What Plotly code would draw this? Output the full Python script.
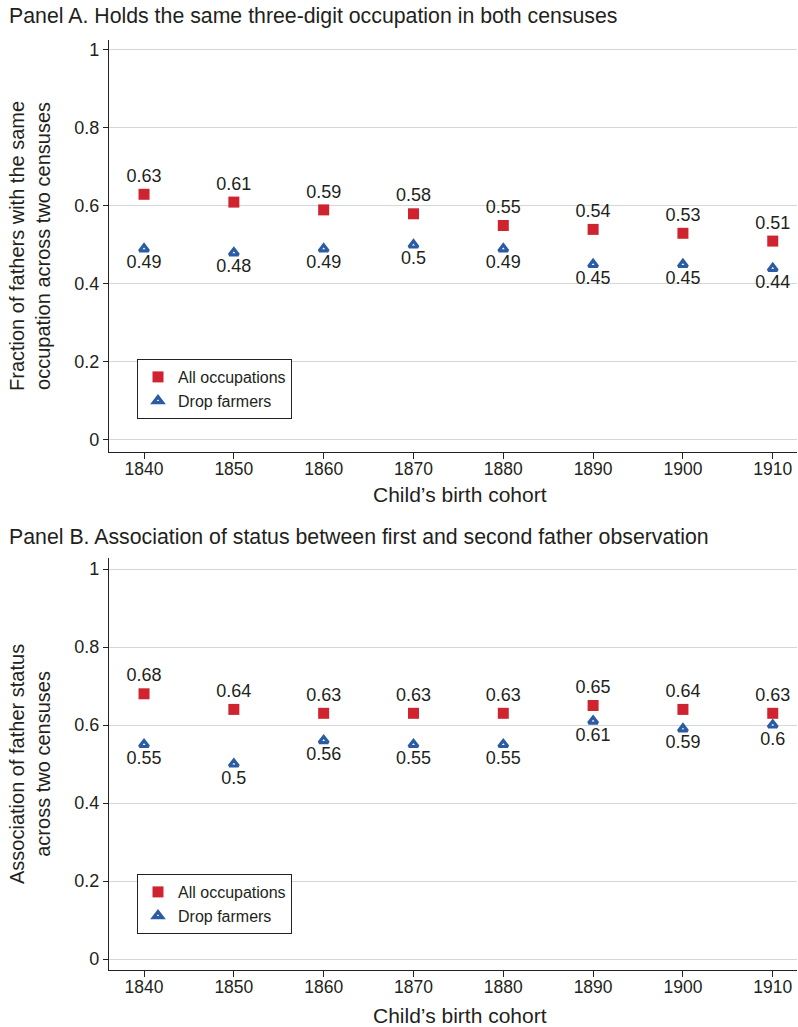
import plotly.graph_objects as go

cohorts = [1840, 1850, 1860, 1870, 1880, 1890, 1900, 1910]

# Panel A: share of fathers holding the same three-digit occupation
a_all = [0.63, 0.61, 0.59, 0.58, 0.55, 0.54, 0.53, 0.51]
a_drop = [0.49, 0.48, 0.49, 0.50, 0.49, 0.45, 0.45, 0.44]

# Panel B: association of father status across observations
b_all = [0.68, 0.64, 0.63, 0.63, 0.63, 0.65, 0.64, 0.63]
b_drop = [0.55, 0.50, 0.56, 0.55, 0.55, 0.61, 0.59, 0.60]

y_ticks = [0, 0.2, 0.4, 0.6, 0.8, 1]
y_tick_text = ["0", "0.2", "0.4", "0.6", "0.8", "1"]

RED = "#cf2330"
BLUE = "#2b5ca3"
TXT = "#231f20"
FONT = "Liberation Sans, Arial, Helvetica, sans-serif"

W, H = 798, 1027


def fmt(v):
    return f"{v:g}"


def px_x(x):
    return x / W


def px_y(y):
    return 1 - y / H


fig = go.Figure()

panels = [
    ("x", "y", a_all, a_drop, "legend"),
    ("x2", "y2", b_all, b_drop, "legend2"),
]
for xa, ya, s_all, s_drop, leg in panels:
    fig.add_trace(go.Scatter(
        x=cohorts, y=s_all, xaxis=xa, yaxis=ya, mode="markers+text",
        name="All occupations", legend=leg,
        marker=dict(symbol="square", size=11, color=RED),
        text=[fmt(v) for v in s_all], textposition="top center",
        textfont=dict(size=18, color=TXT, family=FONT),
    ))
    fig.add_trace(go.Scatter(
        x=cohorts, y=s_drop, xaxis=xa, yaxis=ya, mode="markers+text",
        name="Drop farmers", legend=leg,
        marker=dict(symbol="triangle-up", size=8, color="white",
                    line=dict(color=BLUE, width=3.2)),
        text=[fmt(v) for v in s_drop], textposition="bottom center",
        textfont=dict(size=18, color=TXT, family=FONT),
    ))

x_common = dict(
    range=[1836.1, 1912.7], tickvals=cohorts, ticks="outside", ticklen=6,
    tickwidth=1.2, tickcolor="#222", showline=True, linecolor="#222",
    linewidth=1.4, showgrid=False, zeroline=False, ticklabelstandoff=-5,
    tickfont=dict(size=17.5, color=TXT, family=FONT),
    domain=[px_x(109), px_x(797)],
)
y_common = dict(
    tickvals=y_ticks, ticktext=y_tick_text, ticks="outside", ticklen=5,
    tickwidth=1.2, tickcolor="#222", showline=True, linecolor="#222",
    linewidth=1.4, showgrid=True, gridcolor="#d6d6d6", gridwidth=1.2,
    zeroline=False, tickfont=dict(size=18, color=TXT, family=FONT),
)

legend_common = dict(
    bgcolor="white", bordercolor="#222", borderwidth=1,
    font=dict(size=16, color=TXT, family=FONT), xanchor="left",
    yanchor="top", itemwidth=30, tracegroupgap=2,
)

fig.update_layout(
    width=W, height=H, margin=dict(l=0, r=0, t=0, b=0),
    paper_bgcolor="white", plot_bgcolor="white",
    font=dict(family=FONT, color=TXT),
    xaxis=dict(x_common, anchor="y"),
    yaxis=dict(y_common, range=[-0.0308, 1.0256], anchor="x",
               domain=[px_y(452), px_y(40)]),
    xaxis2=dict(x_common, anchor="y2"),
    yaxis2=dict(y_common, range=[-0.0282, 1.0282], anchor="x2",
                domain=[px_y(970), px_y(558)]),
    legend=dict(legend_common, x=px_x(137), y=px_y(359)),
    legend2=dict(legend_common, x=px_x(137), y=px_y(874)),
)

annotations = [
    dict(text="Panel A. Holds the same three-digit occupation in both censuses",
         x=px_x(7), y=px_y(16), xanchor="left", yanchor="middle", size=21.3),
    dict(text="Panel B. Association of status between first and second father observation",
         x=px_x(7), y=px_y(537), xanchor="left", yanchor="middle", size=21.3),
    dict(text="Child\u2019s birth cohort", x=px_x(460), y=px_y(494),
         xanchor="center", yanchor="middle", size=21),
    dict(text="Child\u2019s birth cohort", x=px_x(460), y=px_y(1015),
         xanchor="center", yanchor="middle", size=21),
    dict(text="Fraction of fathers with the same<br>occupation across two censuses",
         x=px_x(30), y=px_y(246), xanchor="center", yanchor="middle",
         size=20, angle=-90),
    dict(text="Association of father status<br>across two censuses",
         x=px_x(30), y=px_y(764), xanchor="center", yanchor="middle",
         size=20, angle=-90),
]
for a in annotations:
    fig.add_annotation(
        text=a["text"], x=a["x"], y=a["y"], xref="paper", yref="paper",
        xanchor=a["xanchor"], yanchor=a["yanchor"], showarrow=False,
        textangle=a.get("angle", 0),
        font=dict(size=a["size"], color=TXT, family=FONT),
    )

fig.write_html("out.html")
